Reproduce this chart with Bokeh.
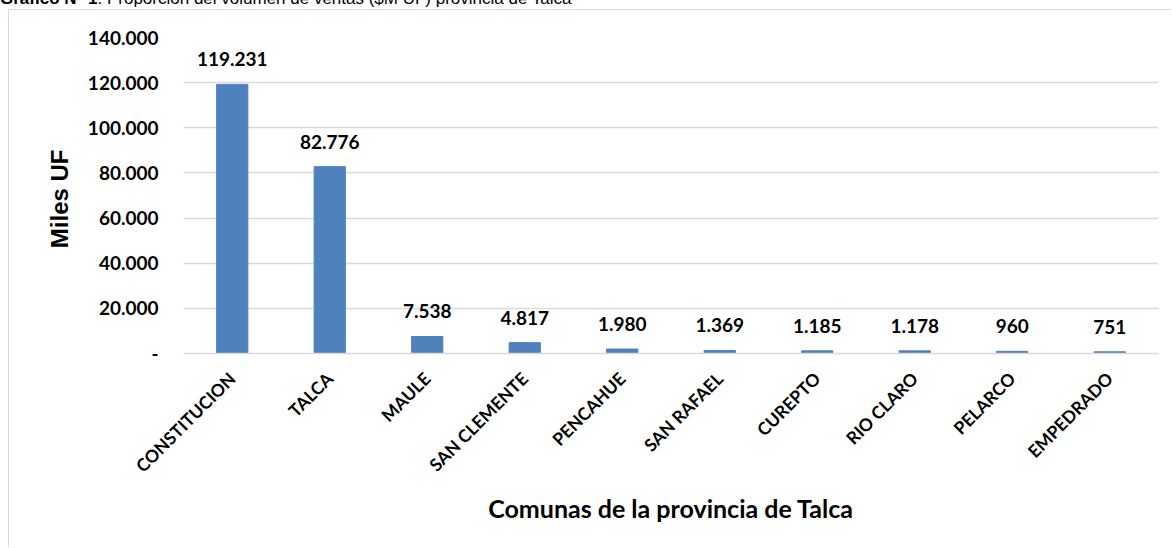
from bokeh.plotting import figure
from bokeh.models import Range1d, FactorRange, FixedTicker, ColumnDataSource, Div
from bokeh.layouts import column
from bokeh.core.properties import value
from bokeh.embed import file_html
from bokeh.resources import INLINE
from math import pi

titulo_negrita = "Gráfico N° 1"
titulo_resto = ": Proporción del volumen de ventas ($M UF) provincia de Talca"
comunas = ["CONSTITUCION", "TALCA", "MAULE", "SAN CLEMENTE", "PENCAHUE",
           "SAN RAFAEL", "CUREPTO", "RIO CLARO", "PELARCO", "EMPEDRADO"]
ventas = [119231, 82776, 7538, 4817, 1980, 1369, 1185, 1178, 960, 751]
y_ticks = [0, 20000, 40000, 60000, 80000, 100000, 120000, 140000]
y_tick_labels = ["-", "20.000", "40.000", "60.000", "80.000", "100.000", "120.000", "140.000"]

labels = [f"{v:,}".replace(",", ".") for v in ventas]
src = ColumnDataSource(dict(x=comunas, top=ventas, lab=labels))

W, H = 1163, 538
p = figure(x_range=FactorRange(*comunas), y_range=Range1d(0, 140000),
           width=W, height=H, output_backend="svg", toolbar_location=None,
           min_border_left=174, min_border_right=14, min_border_top=27,
           min_border_bottom=195)
p.margin = (0, 0, 0, 8)
p.styles = {"border-left": "1px solid #d9d9d9", "border-top": "1px solid #d9d9d9"}

p.vbar(x="x", top="top", width=0.32, source=src, fill_color="#4f81bd",
       line_color="#4f81bd", line_width=1)
p.text(x="x", y="top", text="lab", source=src, text_align="center",
       text_baseline="alphabetic", y_offset=-25,
       text_font=value("Lato"), text_font_style="bold", text_font_size="19px",
       text_color="#000000")

p.outline_line_color = None
p.background_fill_color = "white"
p.border_fill_color = "white"
p.xgrid.grid_line_color = None
p.ygrid.grid_line_color = "#d9d9d9"
p.ygrid.grid_line_width = 1.5

p.yaxis.ticker = FixedTicker(ticks=y_ticks)
p.yaxis.major_label_overrides = {t: l for t, l in zip(y_ticks, y_tick_labels)}
p.yaxis.axis_line_color = None
p.yaxis.major_tick_line_color = None
p.yaxis.minor_tick_line_color = None
p.yaxis.major_label_text_font = "Lato"
p.yaxis.major_label_text_font_style = "bold"
p.yaxis.major_label_text_font_size = "19px"
p.yaxis.major_label_text_color = "#000000"
p.yaxis.major_label_standoff = 19
p.yaxis.axis_label = "Miles  UF"
p.yaxis.axis_label_text_font = "Liberation Sans"
p.yaxis.axis_label_text_font_style = "bold"
p.yaxis.axis_label_text_font_size = "24px"
p.yaxis.axis_label_text_color = "#000000"
p.yaxis.axis_label_standoff = 12

p.xaxis.axis_line_color = "#d9d9d9"
p.xaxis.axis_line_width = 1.5
p.xaxis.major_tick_line_color = None
p.xaxis.minor_tick_line_color = None
p.xaxis.major_label_orientation = pi / 4
p.xaxis.major_label_text_font = "Lato"
p.xaxis.major_label_text_font_style = "bold"
p.xaxis.major_label_text_font_size = "17.5px"
p.xaxis.major_label_text_color = "#000000"
p.xaxis.major_label_standoff = 16
p.xaxis.axis_label = "Comunas de la provincia de Talca"
p.xaxis.axis_label_text_font = "Lato"
p.xaxis.axis_label_text_font_style = "bold"
p.xaxis.axis_label_text_font_size = "25px"
p.xaxis.axis_label_text_color = "#000000"
p.xaxis.axis_label_standoff = 6

titulo = Div(
    text=('<div style="position:relative; top:-11px; left:0px; white-space:nowrap; '
          'font-family:\'Liberation Sans\'; font-size:17px; line-height:20px; color:#000;">'
          f'<b>{titulo_negrita}</b>{titulo_resto}</div>'),
    width=1172, height=9, margin=(0, 0, 0, 0),
    styles={"overflow": "hidden"})

layout = column(titulo, p, spacing=0)
open("out.html", "w").write(file_html(layout, INLINE))
